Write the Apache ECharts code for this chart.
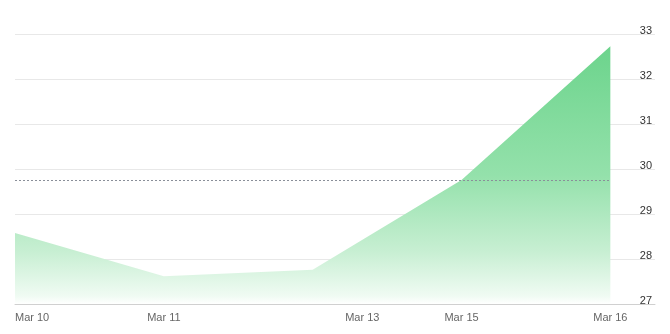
<!DOCTYPE html>
<html><head><meta charset="utf-8">
<script src="https://cdn.jsdelivr.net/npm/echarts@6/dist/echarts.min.js"></script>
<style>html,body{margin:0;padding:0;background:#fff}#c{width:670px;height:334px}</style>
</head><body><div id="c"></div>
<script>
// x positions (slot index) of each data point
const pointSlots = [0, 3, 6, 9, 12];
const values = [28.58, 27.62, 27.76, 29.76, 32.74];
// tick labels and their slot positions
const tickSlots = [0, 3, 7, 9, 12];
const tickLabels = ['Mar 10', 'Mar 11', 'Mar 13', 'Mar 15', 'Mar 16'];
const yTicks = [27, 28, 29, 30, 31, 32, 33];
const refValue = 29.75;

const chart = echarts.init(document.getElementById('c'));
chart.setOption({
  animation: false,
  grid: { left: 15, right: 15, top: 34.5, bottom: 30 },
  xAxis: {
    type: 'value', min: 0, max: 12.9,
    axisLine: { show: true, lineStyle: { color: '#d0d0d0' } },
    axisTick: { show: false },
    splitLine: { show: false },
    axisLabel: {
      customValues: tickSlots,
      formatter: v => tickLabels[tickSlots.indexOf(v)] || '',
      color: '#666', fontSize: 11, fontFamily: 'Liberation Sans', margin: 8,
      alignMinLabel: 'left'
    }
  },
  yAxis: {
    type: 'value', position: 'right', min: 27, max: 33, interval: 1,
    axisLine: { show: false }, axisTick: { show: false },
    splitLine: { lineStyle: { color: '#e8e8e8' } },
    axisLabel: {
      inside: true, margin: 3, color: '#333', fontSize: 11, fontFamily: 'Liberation Sans',
      verticalAlign: 'bottom', lineHeight: 7,
      formatter: v => yTicks.includes(v) ? String(v) : ''
    }
  },
  series: [{
    type: 'line',
    data: pointSlots.map((s, i) => [s, values[i]]),
    symbol: 'none',
    lineStyle: { width: 0 },
    areaStyle: {
      origin: 'start',
      opacity: 1,
      color: new echarts.graphic.LinearGradient(0, 0, 0, 1, [
        { offset: 0, color: 'rgb(108,212,140)' },
        { offset: 0.5, color: 'rgb(148,225,171)' },
        { offset: 0.8, color: 'rgb(200,239,211)' },
        { offset: 0.97, color: 'rgb(240,251,243)' },
        { offset: 1, color: 'rgb(255,255,255)' }
      ])
    },
    markLine: {
      silent: true, symbol: 'none', label: { show: false },
      lineStyle: { color: '#8a8f99', type: [2, 2], width: 1 },
      data: [[{ coord: [pointSlots[0], refValue] }, { coord: [pointSlots[pointSlots.length - 1], refValue] }]]
    }
  }]
});
</script></body></html>
